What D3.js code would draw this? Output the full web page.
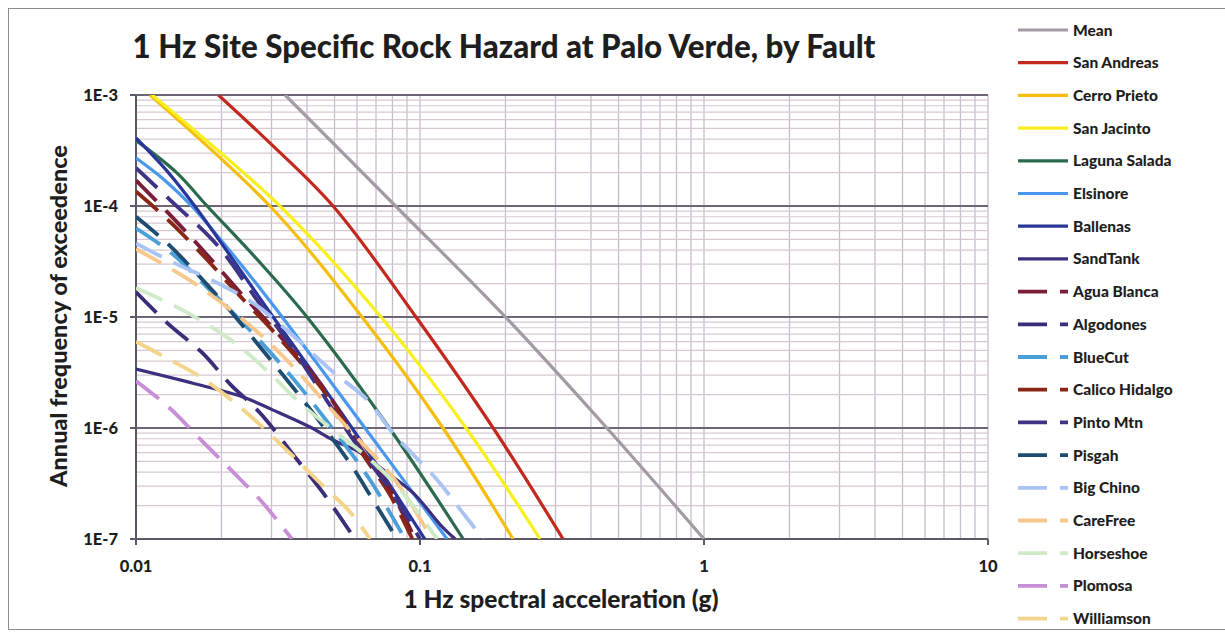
<!DOCTYPE html>
<html>
<head>
<meta charset="utf-8">
<title>1 Hz Site Specific Rock Hazard at Palo Verde, by Fault</title>
<script src="https://cdn.jsdelivr.net/npm/d3@7/dist/d3.min.js"></script>
<style>
body { margin: 0; background: #fff; }
text { font-family: Lato, "Open Sans", sans-serif; font-weight: 900; fill: #1e1e1e; }
</style>
</head>
<body>
<div id="chart"></div>
<script>
// hazard curves: [spectral acceleration (g), annual frequency of exceedence]
const mean          = [[0.0335,1e-3],[0.082,1e-4],[0.2,1e-5],[0.455,1e-6],[1.0,1e-7]];
const sanAndreas    = [[0.0195,1e-3],[0.0296,3.7e-4],[0.0494,1e-4],[0.0968,1e-5],[0.181,1e-6],[0.319,1e-7]];
const cerroPrieto   = [[0.0112,1e-3],[0.0296,1e-4],[0.0625,1e-5],[0.1205,1e-6],[0.2126,1e-7]];
const sanJacinto    = [[0.0114,1e-3],[0.0321,1e-4],[0.0729,1e-5],[0.1452,1e-6],[0.2646,1e-7]];
const lagunaSalada  = [[0.01,3.9e-4],[0.0139,2.0e-4],[0.0178,1e-4],[0.0267,3.3e-5],[0.04,1e-5],[0.078,1e-6],[0.142,1e-7]];
const elsinore      = [[0.01,2.7e-4],[0.01265,1.7e-4],[0.0157,1e-4],[0.0229,3.2e-5],[0.0327,1e-5],[0.064,1e-6],[0.1245,1e-7]];
const ballenas      = [[0.01,4.1e-4],[0.013,2.0e-4],[0.0161,1e-4],[0.0304,1e-5],[0.0576,1e-6],[0.104,1e-7]];
const sandTank      = [[0.01,3.4e-6],[0.0168,2.44e-6],[0.0238,1.9e-6],[0.0304,1.45e-6],[0.041,1.02e-6],[0.0494,7.8e-7],[0.0615,6e-7],[0.0741,4.2e-7],[0.0945,2.6e-7],[0.12,1.28e-7],[0.133,1e-7]];
const aguaBlanca    = [[0.01,1.7e-4],[0.0129,8.8e-5],[0.0172,4.0e-5],[0.0232,1.68e-5],[0.0314,7.2e-6],[0.0471,2.07e-6],[0.0615,6.7e-7],[0.0784,2.8e-7],[0.096,1e-7]];
const algodones     = [[0.01,1.68e-5],[0.0129,8.8e-6],[0.0172,4.7e-6],[0.0214,2.5e-6],[0.0273,1.37e-6],[0.0369,5.2e-7],[0.0456,2.6e-7],[0.059,1e-7]];
const blueCut       = [[0.01,6.3e-5],[0.0132,3.85e-5],[0.0182,1.75e-5],[0.0252,7.6e-6],[0.0349,3.0e-6],[0.0482,1.06e-6],[0.0667,3.4e-7],[0.0885,1e-7]];
const calicoHidalgo = [[0.01,1.35e-4],[0.0129,7.6e-5],[0.0172,3.6e-5],[0.0232,1.55e-5],[0.0314,6.8e-6],[0.0471,1.95e-6],[0.0615,6.3e-7],[0.0784,2.5e-7],[0.094,1e-7]];
const pintoMtn      = [[0.01,2.2e-4],[0.0132,1.13e-4],[0.0193,4.45e-5],[0.0267,1.42e-5],[0.0349,5.6e-6],[0.0482,1.6e-6],[0.06,7e-7],[0.0784,2.76e-7],[0.1,1e-7]];
const pisgah        = [[0.01,8e-5],[0.0129,4.6e-5],[0.0172,2.15e-5],[0.0211,1.2e-5],[0.0273,5.4e-6],[0.042,1.37e-6],[0.0567,4.8e-7],[0.0683,2.25e-7],[0.083,1e-7]];
const bigChino      = [[0.01,4.6e-5],[0.0135,3.1e-5],[0.0178,2.25e-5],[0.0258,1.34e-5],[0.034,7.6e-6],[0.0494,3.2e-6],[0.0651,1.8e-6],[0.0803,9e-7],[0.115,3.4e-7],[0.142,1.7e-7],[0.167,1e-7]];
const careFree      = [[0.01,4.1e-5],[0.0168,1.86e-5],[0.0296,5.8e-6],[0.0553,1.02e-6],[0.0817,3.4e-7],[0.110,1e-7]];
const horseshoe     = [[0.01,1.83e-5],[0.0135,1.28e-5],[0.0168,9.4e-6],[0.0232,5.4e-6],[0.0304,2.9e-6],[0.0378,1.68e-6],[0.0494,9.6e-7],[0.0651,5.5e-7],[0.0851,2.8e-7],[0.1148,1e-7]];
const plomosa       = [[0.01,2.65e-6],[0.013,1.55e-6],[0.0172,7.5e-7],[0.022,4e-7],[0.0278,2.15e-7],[0.0354,1e-7]];
const williamson    = [[0.01,6e-6],[0.0132,4.1e-6],[0.0168,2.9e-6],[0.0232,1.55e-6],[0.034,6.3e-7],[0.0434,3.4e-7],[0.0567,1.75e-7],[0.0667,1e-7]];

const seriesNames = ["Mean","San Andreas","Cerro Prieto","San Jacinto","Laguna Salada","Elsinore","Ballenas","SandTank",
  "Agua Blanca","Algodones","BlueCut","Calico Hidalgo","Pinto Mtn","Pisgah","Big Chino","CareFree","Horseshoe","Plomosa","Williamson"];
const seriesValues = [mean, sanAndreas, cerroPrieto, sanJacinto, lagunaSalada, elsinore, ballenas, sandTank,
  aguaBlanca, algodones, blueCut, calicoHidalgo, pintoMtn, pisgah, bigChino, careFree, horseshoe, plomosa, williamson];
const seriesColors = ["#a39aa3","#c2281d","#f5bd0c","#f8f01e","#2b6a4d","#4a98ee","#2a359a","#3d2f7e",
  "#7b1d36","#3c2d7a","#4a9fd8","#8a2616","#3e3384","#1d4d70","#a9c3f3","#f7c78c","#cfeac6","#c78fd7","#f3d488"];
const seriesDashed = [false,false,false,false,false,false,false,false,
  true,true,true,true,true,true,true,true,true,true,true];

const xTicks = [0.01, 0.1, 1, 10];
const xTickLabels = ["0.01", "0.1", "1", "10"];
const yTicks = [1e-3, 1e-4, 1e-5, 1e-6, 1e-7];
const yTickLabels = ["1E-3", "1E-4", "1E-5", "1E-6", "1E-7"];

const width = 1225, height = 634;
const plot = {left: 136, right: 988, top: 95, bottom: 539};

const svg = d3.select("#chart").append("svg")
    .attr("width", width)
    .attr("height", height);

// chart frame
svg.append("rect")
    .attr("x", 8.5).attr("y", 8.5)
    .attr("width", 1300).attr("height", 621)
    .attr("fill", "none")
    .attr("stroke", "#8c8c8c");

const x = d3.scaleLog().domain([0.01, 10]).range([plot.left, plot.right]);
const y = d3.scaleLog().domain([1e-7, 1e-3]).range([plot.bottom, plot.top]);

// gridlines
const xGrid = [];
for (let e = -2; e < 1; e++) for (let k = 1; k < 10; k++) xGrid.push(k * Math.pow(10, e));
xGrid.push(10);
const yMinor = [];
for (let e = -7; e < -3; e++) for (let k = 2; k < 10; k++) yMinor.push(k * Math.pow(10, e));

const grid = svg.append("g");
grid.selectAll(".vg").data(xGrid).join("line")
    .attr("x1", d => x(d)).attr("x2", d => x(d))
    .attr("y1", plot.top).attr("y2", plot.bottom)
    .attr("stroke", "#c6bdcb").attr("stroke-width", 1.3);
grid.selectAll(".hm").data(yMinor).join("line")
    .attr("x1", plot.left).attr("x2", plot.right)
    .attr("y1", d => y(d)).attr("y2", d => y(d))
    .attr("stroke", "#d6c8d2").attr("stroke-width", 1.2);
grid.selectAll(".hM").data(yTicks).join("line")
    .attr("x1", plot.left).attr("x2", plot.right)
    .attr("y1", d => y(d)).attr("y2", d => y(d))
    .attr("stroke", "#6e6676").attr("stroke-width", 1.8);

// axes
const axes = svg.append("g");
axes.append("line")
    .attr("x1", plot.left).attr("x2", plot.left)
    .attr("y1", plot.top).attr("y2", plot.bottom + 6)
    .attr("stroke", "#5e5866").attr("stroke-width", 2);
axes.append("line")
    .attr("x1", plot.left - 6).attr("x2", plot.right)
    .attr("y1", plot.bottom).attr("y2", plot.bottom)
    .attr("stroke", "#5e5866").attr("stroke-width", 2);
axes.selectAll(".yt").data(yTicks).join("line")
    .attr("x1", plot.left - 6).attr("x2", plot.left)
    .attr("y1", d => y(d)).attr("y2", d => y(d))
    .attr("stroke", "#5e5866").attr("stroke-width", 2);
axes.selectAll(".xt").data(xTicks).join("line")
    .attr("x1", d => x(d)).attr("x2", d => x(d))
    .attr("y1", plot.bottom).attr("y2", plot.bottom + 6)
    .attr("stroke", "#5e5866").attr("stroke-width", 2);

axes.selectAll(".ytl").data(yTicks).join("text")
    .attr("x", plot.left - 18)
    .attr("y", d => y(d) + 6)
    .attr("text-anchor", "end")
    .attr("font-size", 16.5)
    .text((d, i) => yTickLabels[i]);
axes.selectAll(".xtl").data(xTicks).join("text")
    .attr("x", d => x(d))
    .attr("y", plot.bottom + 33)
    .attr("text-anchor", "middle")
    .attr("font-size", 16.5)
    .text((d, i) => xTickLabels[i]);

// series
svg.append("clipPath").attr("id", "plotclip")
  .append("rect")
    .attr("x", plot.left).attr("y", plot.top)
    .attr("width", plot.right - plot.left).attr("height", plot.bottom - plot.top);

const line = d3.line()
    .x(d => x(d[0]))
    .y(d => y(d[1]))
    .curve(d3.curveCatmullRom.alpha(0.5));

svg.append("g").attr("clip-path", "url(#plotclip)")
  .selectAll("path")
  .data(seriesValues)
  .join("path")
    .attr("d", line)
    .attr("fill", "none")
    .attr("stroke", (d, i) => seriesColors[i])
    .attr("stroke-width", (d, i) => seriesDashed[i] ? 3.8 : 3.2)
    .attr("stroke-dasharray", (d, i) => seriesDashed[i] ? "29,13" : null);

// titles
svg.append("text")
    .attr("x", 504).attr("y", 58)
    .attr("text-anchor", "middle")
    .attr("font-size", 31.3)
    .text("1 Hz Site Specific Rock Hazard at Palo Verde, by Fault");

svg.append("text")
    .attr("x", 561).attr("y", 608)
    .attr("text-anchor", "middle")
    .attr("font-size", 24.5)
    .text("1 Hz spectral acceleration (g)");

svg.append("text")
    .attr("transform", "translate(67,316) rotate(-90)")
    .attr("text-anchor", "middle")
    .attr("font-size", 23.5)
    .text("Annual frequency of exceedence");

// legend
const legend = svg.append("g").selectAll("g")
  .data(seriesNames)
  .join("g")
    .attr("transform", (d, i) => `translate(1018,${30 + i * 32.7})`);

legend.append("line")
    .attr("x1", 0).attr("x2", 50)
    .attr("y1", 0).attr("y2", 0)
    .attr("stroke", (d, i) => seriesColors[i])
    .attr("stroke-width", (d, i) => seriesDashed[i] ? 3.8 : 3.2)
    .attr("stroke-dasharray", (d, i) => seriesDashed[i] ? "29,13" : null);

legend.append("text")
    .attr("x", 55).attr("y", 5.5)
    .attr("font-size", 15.5)
    .text(d => d);
</script>
</body>
</html>
